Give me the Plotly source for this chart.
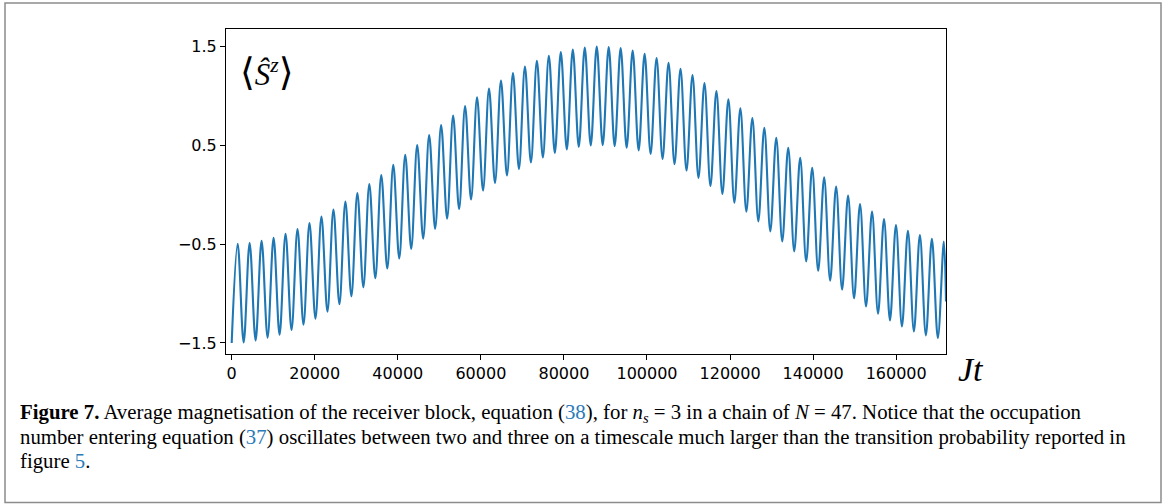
import plotly.graph_objects as go

# ---- data (Jt, <S^z>) ----
peak_t = [1440, 4320, 7200, 10090, 12970, 15850, 18730, 21610, 24500, 27380,
          30260, 33140, 36020, 38910, 41790, 44670, 47550, 50430, 53320, 56200,
          59080, 61960, 64840, 67730, 70610, 73490, 76370, 79250, 82140, 85020,
          87900, 90780, 93660, 96550, 99430, 102310, 105190, 108070, 110960, 113840,
          116720, 119600, 122480, 125370, 128250, 131130, 134010, 136890, 139780, 142660,
          145540, 148420, 151300, 154190, 157070, 159950, 162830, 165710, 168600, 171480]
peak_s = [-0.497, -0.486, -0.466, -0.435, -0.395, -0.348, -0.287, -0.222, -0.151, -0.070,
          0.018, 0.109, 0.200, 0.302, 0.404, 0.502, 0.604, 0.705, 0.800, 0.898,
          0.986, 1.074, 1.155, 1.230, 1.297, 1.355, 1.406, 1.443, 1.470, 1.490,
          1.500, 1.494, 1.484, 1.460, 1.426, 1.382, 1.334, 1.274, 1.210, 1.131,
          1.050, 0.966, 0.875, 0.776, 0.678, 0.576, 0.475, 0.373, 0.272, 0.177,
          0.083, -0.009, -0.094, -0.171, -0.246, -0.307, -0.364, -0.409, -0.445, -0.473]
trough_t = [0, 2880, 5760, 8645, 11530, 14410, 17290, 20170, 23055, 25940, 28820,
            31700, 34580, 37465, 40350, 43230, 46110, 48990, 51875, 54760, 57640,
            60520, 63400, 66285, 69170, 72050, 74930, 77810, 80695, 83580, 86460,
            89340, 92220, 95105, 97990, 100870, 103750, 106630, 109515, 112400, 115280,
            118160, 121040, 123925, 126810, 129690, 132570, 135450, 138335, 141220, 144100,
            146980, 149860, 152745, 155630, 158510, 161390, 164270, 167155, 170040]
trough_s = [-1.500, -1.495, -1.475, -1.447, -1.417, -1.369, -1.315, -1.254, -1.183, -1.109, -1.028,
            -0.937, -0.845, -0.747, -0.645, -0.547, -0.445, -0.344, -0.242, -0.145, -0.049,
            0.042, 0.119, 0.194, 0.261, 0.326, 0.377, 0.424, 0.458, 0.485, 0.499,
            0.502, 0.492, 0.475, 0.448, 0.414, 0.363, 0.309, 0.245, 0.170, 0.089,
            0.008, -0.080, -0.171, -0.270, -0.371, -0.473, -0.574, -0.676, -0.770, -0.869,
            -0.960, -1.048, -1.132, -1.204, -1.272, -1.333, -1.383, -1.424, -1.450]
end_t = [172000]
end_s = [-1.08]

x_ticks = [0, 20000, 40000, 60000, 80000, 100000, 120000, 140000, 160000]
x_ticktext = [str(v) for v in x_ticks]
y_ticks = [-1.5, -0.5, 0.5, 1.5]
y_ticktext = ["\u22121.5", "\u22120.5", "0.5", "1.5"]

# merge extrema in time order
pts = sorted(list(zip(peak_t, peak_s)) + list(zip(trough_t, trough_s)) + list(zip(end_t, end_s)))
t_all = [p[0] for p in pts]
s_all = [p[1] for p in pts]

W, H = 1168, 504
def px(x):
    return x / W
def py(y):
    return 1 - y / H

fig = go.Figure()
fig.add_trace(go.Scatter(x=t_all, y=s_all, mode="lines",
                         line=dict(color="#1f77b4", width=2.1, shape="spline", smoothing=1.0),
                         showlegend=False, hoverinfo="skip"))

axis_common = dict(showline=True, linecolor="black", linewidth=1, mirror=True,
                   ticks="outside", ticklen=5, tickwidth=1, tickcolor="black",
                   showgrid=False, zeroline=False,
                   tickfont=dict(family="DejaVu Sans", size=16, color="black"))

fig.update_layout(
    width=W, height=H,
    margin=dict(l=0, r=0, t=0, b=0),
    paper_bgcolor="white", plot_bgcolor="white",
    xaxis=dict(domain=[px(226), px(946)], range=[-1370, 172000],
               tickvals=x_ticks, ticktext=x_ticktext, **axis_common),
    yaxis=dict(domain=[py(354), py(29)], range=[-1.612, 1.677],
               tickvals=y_ticks, ticktext=y_ticktext, **axis_common),
)

# outer frame of the figure panel
fig.add_shape(type="rect", xref="paper", yref="paper",
              x0=px(5), x1=px(1161), y0=py(502.5), y1=py(3),
              line=dict(color="#8c8c8c", width=1.5), fillcolor="rgba(0,0,0,0)", layer="below")

serif = "Liberation Serif, DejaVu Serif, serif"
big = "<span style='font-size:38px'>"
fig.add_annotation(xref="paper", yref="paper", x=px(238), y=py(72), xanchor="left", yanchor="middle",
                   text=big + "\u27e8</span><i>\u015c</i><sup><i>z</i></sup>" + big + "\u27e9</span>",
                   showarrow=False, font=dict(family=serif, size=31, color="black"))
fig.add_annotation(xref="paper", yref="paper", x=px(956), y=py(369), xanchor="left", yanchor="middle",
                   text="<i>Jt</i>", showarrow=False,
                   font=dict(family=serif, size=34, color="black"))

link = "#2a7ab8"
cap_lines = [
    "<b>Figure 7.</b> Average magnetisation of the receiver block, equation (<span style='color:%s'>38</span>), "
    "for <i>n<sub>s</sub></i> = 3 in a chain of <i>N</i> = 47. Notice that the occupation" % link,
    "number entering equation (<span style='color:%s'>37</span>) oscillates between two and three on a timescale "
    "much larger than the transition probability reported in" % link,
    "figure <span style='color:%s'>5</span>." % link,
]
cap_y = [413, 437, 461]
for txt, yy in zip(cap_lines, cap_y):
    fig.add_annotation(xref="paper", yref="paper", x=px(18), y=py(yy), xanchor="left", yanchor="middle",
                       text=txt, showarrow=False, align="left",
                       font=dict(family=serif, size=20.8, color="black"))

fig.write_html("out.html", post_script="document.body.style.margin='0';",
               config={"displayModeBar": False})
